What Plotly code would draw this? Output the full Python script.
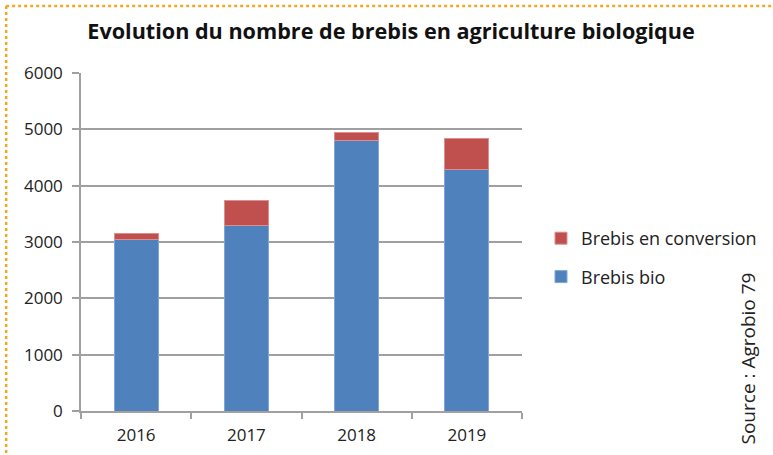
import plotly.graph_objects as go

years = ["2016", "2017", "2018", "2019"]
brebis_bio = [3050, 3300, 4800, 4290]
brebis_conversion = [105, 440, 150, 540]
y_ticks = [0, 1000, 2000, 3000, 4000, 5000, 6000]

W, H = 773, 455
L, R, T, B = 81, 250, 73, 44

fig = go.Figure()
fig.add_trace(go.Bar(x=years, y=brebis_bio, name="Brebis bio",
                     marker=dict(color="#4F81BD", line=dict(color="#7FA6D8", width=1)),
                     width=0.4, legendgroup="b", legendrank=2))
fig.add_trace(go.Bar(x=years, y=brebis_conversion, name="Brebis en conversion",
                     marker=dict(color="#C0504D", line=dict(color="#D9908E", width=1)),
                     width=0.4, legendgroup="a", legendrank=1))

pw = W - L - R
ph = H - T - B
def px_x(p):
    return (p - L) / pw
def px_y(p):
    return (H - B - p) / ph

fig.update_layout(
    width=W, height=H,
    margin=dict(l=L, r=R, t=T, b=B),
    barmode="stack",
    plot_bgcolor="white", paper_bgcolor="white",
    font=dict(family="Open Sans", color="#222222", size=16),
    title=dict(text="<b>Evolution du nombre de brebis en agriculture biologique</b>",
               x=391 / W, xanchor="center", y=1 - 31 / H, yanchor="middle",
               font=dict(family="Open Sans", size=21.6, color="#111111")),
    xaxis=dict(type="category", range=[-0.5, 3.5], tickson="boundaries",
               ticks="outside", ticklen=6, tickcolor="#A0A0A0", tickwidth=1.5,
               showline=True, linecolor="#A0A0A0", linewidth=1.5,
               showgrid=False, tickfont=dict(size=17), ticklabelstandoff=8,
               automargin=False),
    yaxis=dict(range=[0, 6000], tickvals=y_ticks, ticks="outside", ticklen=7,
               tickcolor="#A0A0A0", tickwidth=1.5,
               showline=True, linecolor="#A0A0A0", linewidth=1.5,
               showgrid=True, gridcolor="#A0A0A0", gridwidth=1.5,
               zeroline=False, tickfont=dict(size=17), ticklabelstandoff=6,
               automargin=False),
    legend=dict(x=px_x(541), y=px_y(220), xanchor="left", yanchor="top",
                traceorder="grouped", tracegroupgap=12,
                font=dict(size=18), itemwidth=30, bgcolor="rgba(0,0,0,0)"),
    showlegend=True,
)

# dotted orange frame (top and left)
fig.add_shape(type="line", xref="paper", yref="paper",
              x0=px_x(6), x1=px_x(773), y0=px_y(6), y1=px_y(6),
              line=dict(color="#F5A623", width=2.5, dash="dot"))
fig.add_shape(type="line", xref="paper", yref="paper",
              x0=px_x(6), x1=px_x(6), y0=px_y(6), y1=px_y(455),
              line=dict(color="#F5A623", width=2.5, dash="dot"))

fig.add_annotation(text="Source : Agrobio 79", xref="paper", yref="paper",
                   x=px_x(750), y=px_y(358), textangle=-90, showarrow=False,
                   xanchor="center", yanchor="middle",
                   font=dict(family="Open Sans", size=19, color="#222222"))

fig.write_html("out.html", config={"displayModeBar": False},
               post_script="document.body.style.margin='0';")
